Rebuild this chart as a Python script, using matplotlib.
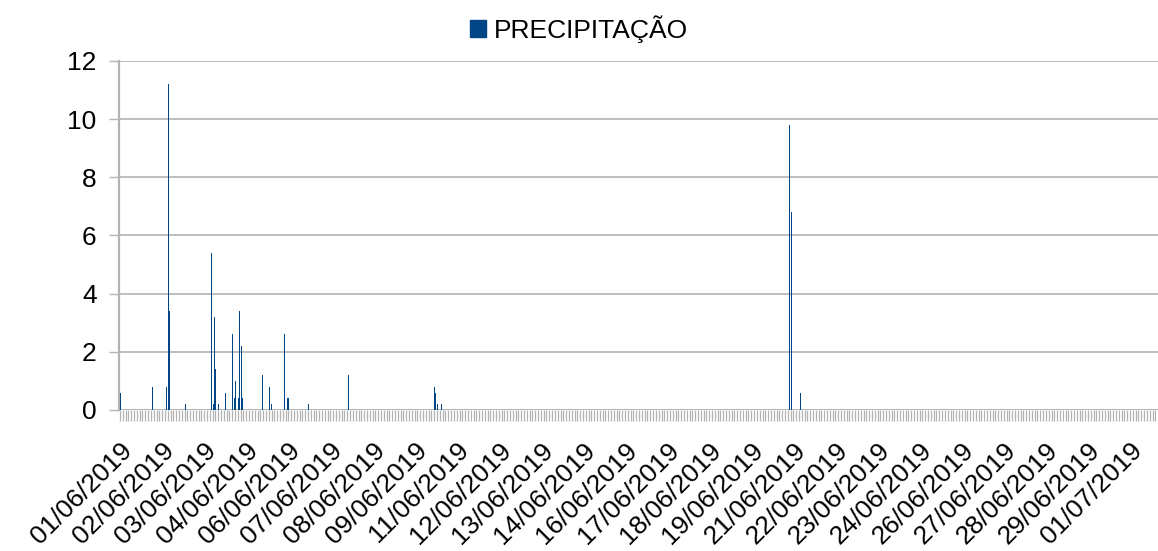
import matplotlib
matplotlib.use("Agg")
import matplotlib.pyplot as plt
from matplotlib.patches import Patch
from matplotlib.ticker import MultipleLocator, FixedLocator, FixedFormatter

plt.rcParams["font.family"] = ["Liberation Sans", "DejaVu Sans"]

# time of each reading, in days since 01/06/2019 00:00
dias = [0.00, 0.96, 1.37, 1.445, 1.46, 1.94, 2.71, 2.77, 2.80, 2.83, 2.92,
        3.12, 3.33, 3.39, 3.42, 3.51, 3.54, 3.60, 3.63, 4.22, 4.43, 4.49,
        4.88, 4.97, 5.00, 5.59, 6.80, 9.33, 9.36, 9.42, 9.56, 19.89, 19.95,
        20.22]
precipitacao = [0.6, 0.8, 0.8, 11.2, 3.4, 0.2, 5.4, 0.2, 3.2, 1.4, 0.2,
                0.6, 2.6, 0.4, 1.0, 0.4, 3.4, 2.2, 0.4, 1.2, 0.8, 0.2,
                2.6, 0.4, 0.4, 0.2, 1.2, 0.8, 0.6, 0.2, 0.2, 9.8, 6.8,
                0.6]

# date labels, one every 1.25 days
label_pos = [i * 1.25 for i in range(25)]
label_txt = ["01/06/2019", "02/06/2019", "03/06/2019", "04/06/2019",
             "06/06/2019", "07/06/2019", "08/06/2019", "09/06/2019",
             "11/06/2019", "12/06/2019", "13/06/2019", "14/06/2019",
             "16/06/2019", "17/06/2019", "18/06/2019", "19/06/2019",
             "21/06/2019", "22/06/2019", "23/06/2019", "24/06/2019",
             "26/06/2019", "27/06/2019", "28/06/2019", "29/06/2019",
             "01/07/2019"]

azul = "#004586"
cinza = "#b3b3b3"

fig = plt.figure(figsize=(11.58, 5.51), dpi=100)
ax = fig.add_axes([0.1028, 0.2559, 0.8972, 0.6335])

ax.bar(dias, precipitacao, width=0.03, color=azul, linewidth=0, zorder=3)

ax.set_xlim(-0.03, 30.83)
ax.set_ylim(0, 12)
ax.yaxis.set_major_locator(MultipleLocator(2))
ax.grid(axis="y", color=cinza, linewidth=1.2, zorder=0)

for s in ["top", "right", "bottom"]:
    ax.spines[s].set_visible(False)
ax.spines["left"].set_color(cinza)
ax.spines["left"].set_linewidth(1.6)
ax.axhline(0, color=cinza, linewidth=1.2, zorder=1)

ax.tick_params(axis="y", length=7.2, color=cinza, width=1, labelsize=19, pad=9)

ax.xaxis.set_major_locator(FixedLocator(label_pos))
ax.xaxis.set_major_formatter(FixedFormatter(label_txt))
ax.xaxis.set_minor_locator(MultipleLocator(1 / 12))
ax.tick_params(axis="x", which="both", length=8, color=cinza, width=0.9,
               direction="out")
ax.tick_params(axis="x", which="major", labelsize=19, pad=12)
for lab in ax.get_xticklabels():
    lab.set_rotation(45)
    lab.set_ha("right")
    lab.set_va("top")
    lab.set_rotation_mode("anchor")

fig.legend(handles=[Patch(facecolor=azul, edgecolor=azul)],
           labels=["PRECIPITAÇÃO"], loc="upper center",
           bbox_to_anchor=(0.5, 1.015), frameon=False, fontsize=19,
           handlelength=0.6, handleheight=0.6, handletextpad=0.3)

fig.savefig("out.png", dpi=100)
